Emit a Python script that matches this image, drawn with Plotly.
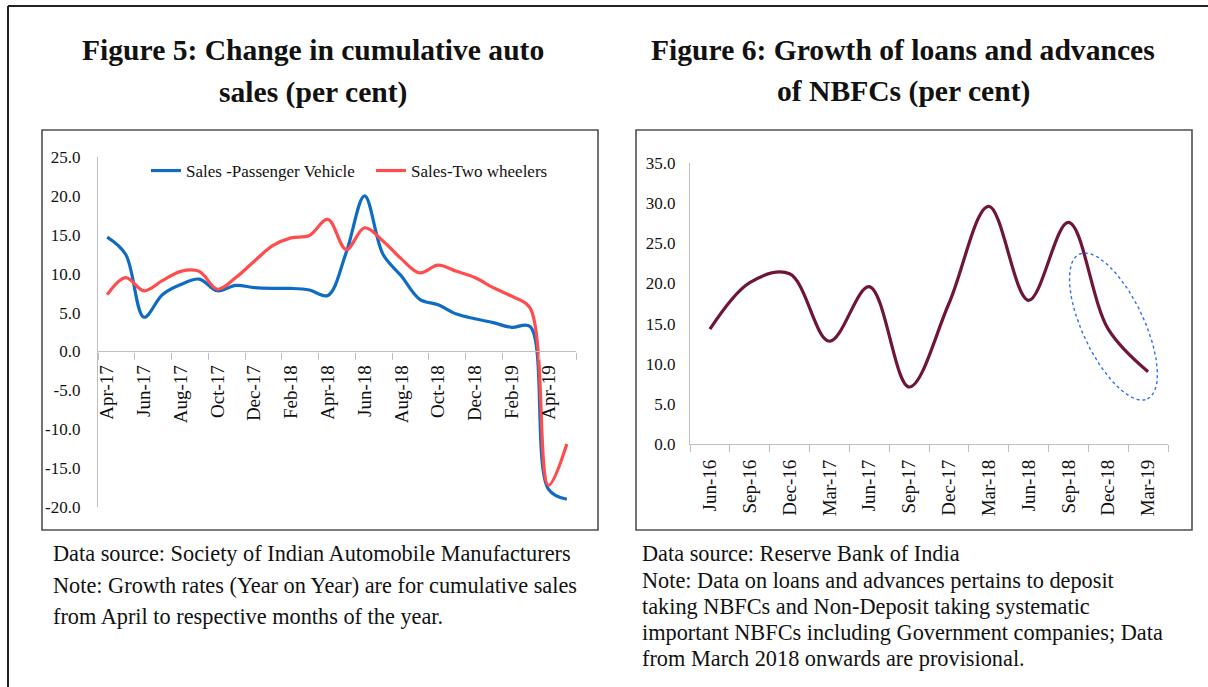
import numpy as np
import plotly.graph_objects as go

W, H = 1208, 687

# ---------------- data ----------------
months_fig5 = ["Apr-17", "May-17", "Jun-17", "Jul-17", "Aug-17", "Sep-17", "Oct-17", "Nov-17",
               "Dec-17", "Jan-18", "Feb-18", "Mar-18", "Apr-18", "May-18", "Jun-18", "Jul-18",
               "Aug-18", "Sep-18", "Oct-18", "Nov-18", "Dec-18", "Jan-19", "Feb-19", "Mar-19",
               "Apr-19", "May-19"]
sales_passenger = [14.7, 12.5, 4.4, 7.3, 8.6, 9.3, 7.8, 8.5, 8.2, 8.1, 8.1, 7.9, 7.2, 12.7, 20.0,
                   12.5, 9.7, 6.7, 6.0, 4.8, 4.2, 3.7, 3.1, 3.2, -17.7, -19.0]
sales_two_wheelers = [7.3, 9.5, 7.8, 9.1, 10.3, 10.3, 8.0, 9.5, 11.6, 13.6, 14.6, 14.9, 17.0, 13.1,
                      15.9, 14.2, 11.9, 10.1, 11.1, 10.3, 9.5, 8.2, 7.1, 5.6, -17.2, -11.9]
fig5_yticks = [-20, -15, -10, -5, 0, 5, 10, 15, 20, 25]

quarters_fig6 = ["Jun-16", "Sep-16", "Dec-16", "Mar-17", "Jun-17", "Sep-17", "Dec-17", "Mar-18",
                 "Jun-18", "Sep-18", "Dec-18", "Mar-19"]
nbfc_growth = [14.3, 20.1, 21.2, 12.8, 19.6, 7.1, 17.5, 29.6, 17.9, 27.6, 14.3, 9.0]
fig6_yticks = [0, 5, 10, 15, 20, 25, 30, 35]

# ---------------- helpers (pixel -> paper) ----------------
def px(x):
    return x / W

def py(y):
    return 1 - y / H

SERIF = "Liberation Serif"
GRAY = "#bfbfbf"

fig = go.Figure()

x5 = list(range(len(months_fig5)))
x6 = list(range(len(quarters_fig6)))

fig.add_trace(go.Scatter(x=x5, y=sales_passenger, mode="lines", name="Sales -Passenger Vehicle",
                         line=dict(color="#0f6cc2", width=3.2, shape="spline", smoothing=1.0),
                         xaxis="x", yaxis="y", legend="legend", hoverinfo="skip"))
fig.add_trace(go.Scatter(x=x5, y=sales_two_wheelers, mode="lines", name="Sales-Two wheelers",
                         line=dict(color="#ff4d4d", width=3.2, shape="spline", smoothing=1.0),
                         xaxis="x", yaxis="y", legend="legend2", hoverinfo="skip"))
fig.add_trace(go.Scatter(x=x6, y=nbfc_growth, mode="lines", name="NBFC",
                         line=dict(color="#6e1538", width=3.2, shape="spline", smoothing=1.0),
                         xaxis="x2", yaxis="y2", showlegend=False, hoverinfo="skip"))

# ---------------- axes geometry ----------------
L_x0, L_x1, L_ytop, L_ybot = 98, 576, 157, 507
R_x0, R_x1, R_ytop, R_ybot = 690, 1168, 163, 444

y5_range = [fig5_yticks[0], fig5_yticks[-1]]
y6_range = [fig6_yticks[0], fig6_yticks[-1]]
y5_dom = [py(L_ybot), py(L_ytop)]
zero_pos = y5_dom[0] + (0 - y5_range[0]) / (y5_range[1] - y5_range[0]) * (y5_dom[1] - y5_dom[0])

ytickfont = dict(family=SERIF, size=17, color="#111111")
xtickfont = dict(family=SERIF, size=19, color="#111111")

fig.update_layout(
    width=W, height=H,
    margin=dict(l=0, r=0, t=0, b=0, autoexpand=False),
    paper_bgcolor="white", plot_bgcolor="white",
    xaxis=dict(domain=[px(L_x0), px(L_x1)], range=[-0.5, len(x5) - 0.5],
               tickmode="array", tickvals=x5[::2], ticktext=months_fig5[::2],
               tickangle=-90, ticks="", tickfont=xtickfont, ticklabelstandoff=5,
               showline=True, linecolor=GRAY, linewidth=1.3, showgrid=False, zeroline=False,
               anchor="free", position=zero_pos, automargin=False,
               minor=dict(tickmode="array", tickvals=list(np.arange(-0.5, len(x5), 2)),
                          ticks="outside", ticklen=7, tickcolor=GRAY, tickwidth=1.3, showgrid=False)),
    yaxis=dict(domain=y5_dom, range=y5_range,
               tickmode="array", tickvals=fig5_yticks, ticktext=[f"{v:.1f}" for v in fig5_yticks],
               ticks="", tickfont=ytickfont, ticklabelstandoff=13,
               showline=True, linecolor=GRAY, linewidth=1.3, showgrid=False, zeroline=False,
               anchor="x", automargin=False),
    xaxis2=dict(domain=[px(R_x0), px(R_x1)], range=[-0.5, len(x6) - 0.5],
                tickmode="array", tickvals=x6, ticktext=quarters_fig6,
                tickangle=-90, ticks="", tickfont=xtickfont, ticklabelstandoff=7,
                showline=True, linecolor=GRAY, linewidth=1.3, showgrid=False, zeroline=False,
                anchor="y2", automargin=False,
                minor=dict(tickmode="array", tickvals=list(np.arange(-0.5, len(x6), 1)),
                           ticks="outside", ticklen=7, tickcolor=GRAY, tickwidth=1.3, showgrid=False)),
    yaxis2=dict(domain=[py(R_ybot), py(R_ytop)], range=y6_range,
                tickmode="array", tickvals=fig6_yticks, ticktext=[f"{v:.1f}" for v in fig6_yticks],
                ticks="", tickfont=ytickfont, ticklabelstandoff=10,
                showline=True, linecolor=GRAY, linewidth=1.3, showgrid=False, zeroline=False,
                anchor="x2", automargin=False),
    legend=dict(x=px(146), y=py(171), xanchor="left", yanchor="middle", orientation="h",
                bgcolor="rgba(0,0,0,0)", font=dict(family=SERIF, size=17, color="#111111"),
                itemwidth=30, tracegroupgap=0),
    legend2=dict(x=px(371), y=py(171), xanchor="left", yanchor="middle", orientation="h",
                 bgcolor="rgba(0,0,0,0)", font=dict(family=SERIF, size=17, color="#111111"),
                 itemwidth=30, tracegroupgap=0),
    showlegend=True,
)

# ---------------- highlight ellipse on figure 6 ----------------
ux = (R_x1 - R_x0) / (len(x6))          # pixels per category
uy = (R_ybot - R_ytop) / (y6_range[1] - y6_range[0])  # pixels per unit
cx_d, cy_d = 10.13, 14.63      # centre in data units
a_px, b_px, theta = 80.0, 30.8, np.deg2rad(25.2)
t = np.linspace(0, 2 * np.pi, 200)
dx = a_px * np.cos(t) * np.sin(theta) + b_px * np.sin(t) * np.cos(theta)
dy = a_px * np.cos(t) * np.cos(theta) - b_px * np.sin(t) * np.sin(theta)  # screen, down positive
fig.add_trace(go.Scatter(x=cx_d + dx / ux, y=cy_d - dy / uy, mode="lines",
                         line=dict(color="#2f6cff", width=1.4, dash="dot"),
                         xaxis="x2", yaxis="y2", showlegend=False, hoverinfo="skip"))

# ---------------- frames ----------------
shapes = [
    dict(type="rect", xref="paper", yref="paper", x0=px(42), x1=px(598), y0=py(530), y1=py(130),
         line=dict(color="#505050", width=1.6)),
    dict(type="rect", xref="paper", yref="paper", x0=px(636), x1=px(1192), y0=py(530), y1=py(130),
         line=dict(color="#505050", width=1.6)),
    dict(type="line", xref="paper", yref="paper", x0=px(8), x1=1, y0=py(6), y1=py(6),
         line=dict(color="#222222", width=2)),
    dict(type="line", xref="paper", yref="paper", x0=px(8), x1=px(8), y0=py(6), y1=0,
         line=dict(color="#222222", width=2)),
]
fig.update_layout(shapes=shapes)

# ---------------- text ----------------
ann = []
def text(x, y, s, size, bold=False, xanchor="left"):
    ann.append(dict(xref="paper", yref="paper", x=px(x), y=py(y), text=(f"<b>{s}</b>" if bold else s),
                    showarrow=False, xanchor=xanchor, yanchor="middle",
                    font=dict(family=SERIF, size=size, color="#111111")))

text(313, 50, "Figure 5: Change in cumulative auto", 29.6, True, "center")
text(313, 93, "sales (per cent)", 29.6, True, "center")
text(903, 50, "Figure 6: Growth of loans and advances", 29.6, True, "center")
text(903, 92, "of NBFCs (per cent)", 29.6, True, "center")

text(51, 553, "Data source: Society of Indian Automobile Manufacturers", 22.3)
text(51, 585, "Note: Growth rates (Year on Year) are for cumulative sales", 22.3)
text(51, 616, "from April to respective months of the year.", 22.3)

text(640, 553, "Data source: Reserve Bank of India", 22.3)
text(640, 580, "Note: Data on loans and advances pertains to deposit", 22.3)
text(640, 606, "taking NBFCs and Non-Deposit taking systematic", 22.3)
text(640, 632, "important NBFCs including Government companies; Data", 22.3)
text(640, 658, "from March 2018 onwards are provisional.", 22.3)

fig.update_layout(annotations=ann)

fig.write_html(
    "out.html",
    config={"displayModeBar": False},
    post_script=(
        "var gd=document.getElementById('{plot_id}');"
        "gd.style.position='fixed';gd.style.top='0px';gd.style.left='0px';"
        "document.body.style.margin='0';document.body.style.overflow='hidden';"
    ),
)
